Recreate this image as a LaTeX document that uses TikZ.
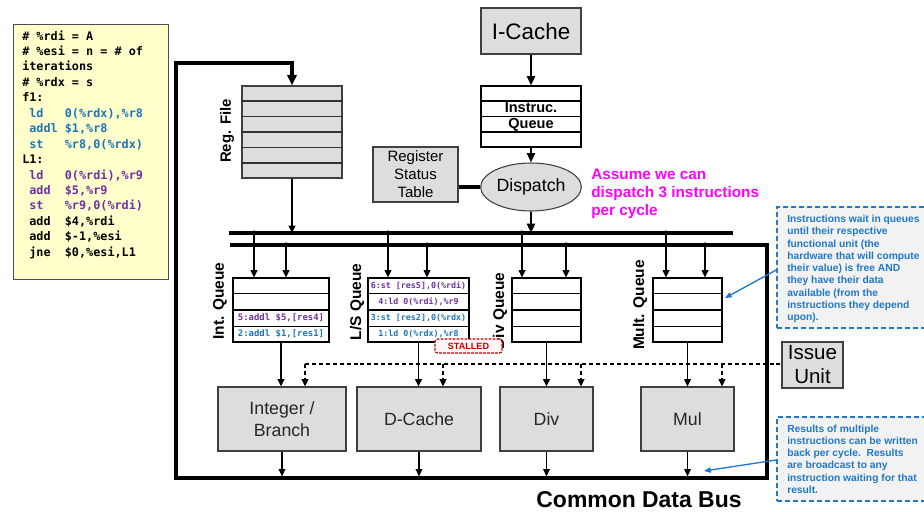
\documentclass[tikz,border=0pt]{standalone}
\usepackage{fontspec}
\setmainfont{Liberation Sans}
\setmonofont{DejaVu Sans Mono}
\usetikzlibrary{arrows.meta,fit,calc,shapes.geometric}

\definecolor{codeblue}{HTML}{1B75BC}
\definecolor{codepurple}{HTML}{7030A0}
\definecolor{codebg}{HTML}{FFFFCC}
\definecolor{boxgray}{HTML}{DDDDDD}
\definecolor{notegray}{HTML}{F2F2F2}
\definecolor{noteblue}{HTML}{1F78C8}
\definecolor{stallred}{HTML}{C00000}
\definecolor{hintmagenta}{HTML}{FF00FF}

\newcommand\codeln[3]{\node[codetext,text=#2] (code#1) at (22,{40+15.45*#1}) {#3};}

\begin{document}
\begin{tikzpicture}[x=0.75pt,y=-0.75pt,
  thickline/.style={line width=2.6pt},
  conn/.style={line width=1.1pt,-{Triangle[length=5.5pt,width=5pt]}},
  bigconn/.style={line width=1.7pt,-{Triangle[length=7pt,width=6pt]}},
  issueconn/.style={line width=1.2pt,dash pattern=on 3pt off 2.2pt,-{Triangle[length=5.5pt,width=5pt]}},
  issueline/.style={line width=1.2pt,dash pattern=on 3pt off 2.2pt},
  tap/.style={circle,fill,inner sep=0,minimum size=3.8pt},
  graybox/.style={draw=black!75,fill=boxgray,line width=0.8pt,inner sep=0},
  queuebox/.style={draw=black,fill=white,line width=0.8pt,inner sep=0},
  qlabel/.style={rotate=90,inner sep=0,font=\bfseries\fontsize{11.6}{13}\selectfont},
  entry/.style={inner sep=0,font=\ttfamily\bfseries\fontsize{6.7}{8}\selectfont},
  lsentry/.style={inner sep=0,font=\ttfamily\bfseries\fontsize{6.25}{8}\selectfont},
  codetext/.style={anchor=base west,inner sep=0,font=\ttfamily\bfseries\fontsize{8.85}{11}\selectfont},
  fulabel/.style={inner sep=0,align=center,font=\fontsize{13.3}{16.5}\selectfont,text=black!85},
  note/.style={draw=noteblue,fill=notegray,dash pattern=on 4pt off 2pt,line width=1.2pt,inner sep=0},
  notetext/.style={text=noteblue,align=left,anchor=west,inner sep=0,font=\bfseries\fontsize{7.7}{9.2}\selectfont},
  noteconn/.style={draw=noteblue,line width=1pt,-{Triangle[length=5pt,width=4pt]}}]
\useasboundingbox (0,0) rectangle (924,511);

% ---------------- program listing ----------------
\node[draw=black!70,fill=codebg,line width=0.6pt,inner sep=0,fit={(13,24) (168,279)}] (code) {};
\codeln{0}{black}{\# \%rdi = A}
\codeln{1}{black}{\# \%esi = n = \# of}
\codeln{2}{black}{iterations}
\codeln{3}{black}{\# \%rdx = s}
\codeln{4}{black}{f1:}
\codeln{5}{codeblue}{~ld~~~0(\%rdx),\%r8}
\codeln{6}{codeblue}{~addl~\$1,\%r8}
\codeln{7}{codeblue}{~st~~~\%r8,0(\%rdx)}
\codeln{8}{black}{L1:}
\codeln{9}{codepurple}{~ld~~~0(\%rdi),\%r9}
\codeln{10}{codepurple}{~add~~\$5,\%r9}
\codeln{11}{codepurple}{~st~~~\%r9,0(\%rdi)}
\codeln{12}{black}{~add~~\$4,\%rdi}
\codeln{13}{black}{~add~~\$-1,\%esi}
\codeln{14}{black}{~jne~~\$0,\%esi,L1}

% ---------------- front end ----------------
\node[graybox,fit={(481,8) (581,54)}] (icache) {};
\node[inner sep=0,font=\fontsize{16.8}{19}\selectfont] (icacheT) at (icache.center) {I-Cache};
\node[queuebox,fit={(481,86) (581,147)}] (instq) {};
\foreach \f in {0.25,0.5,0.75}
  \draw[line width=0.8pt] ($(instq.north west)!\f!(instq.south west)$) -- ($(instq.north east)!\f!(instq.south east)$);
\node[inner sep=0,font=\bfseries\fontsize{10.9}{12}\selectfont] (instqa) at (531,108) {Instruc.};
\node[inner sep=0,font=\bfseries\fontsize{10.9}{12}\selectfont] (instqb) at (531,125) {Queue};

\node[ellipse,draw=black!75,fill=boxgray,line width=0.8pt,minimum width=75.5pt,minimum height=36pt,inner sep=0,
      font=\fontsize{13.3}{15}\selectfont] (dispatch) at (531,187) {Dispatch};
\node[graybox,fit={(373,147) (458,202)}] (rst) {};
\node[inner sep=0,align=center,font=\fontsize{11.25}{13.5}\selectfont] (rstT) at (rst.center) {Register\\Status\\Table};

\node[graybox,fit={(242,86) (342,178)}] (regfile) {};
\foreach \f in {1,...,5}
  \draw[line width=0.8pt,black!80] ($(regfile.north west)!\f/6!(regfile.south west)$) -- ($(regfile.north east)!\f/6!(regfile.south east)$);
\node[rotate=90,inner sep=0,font=\bfseries\fontsize{11.2}{13}\selectfont] (rflabel) at (227,131) {Reg. File};

\node[anchor=west,align=left,inner sep=0,text=hintmagenta,font=\bfseries\fontsize{11.5}{13.5}\selectfont] (hint) at (591,194)
  {Assume we can\\dispatch 3 instructions\\per cycle};

\draw[bigconn] (icache.south) -- (instq.north);
\draw[bigconn] (instq.south) -- (dispatch.north);
\draw[thickline] (rst.east |- dispatch.west) -- (dispatch.west);

% ---------------- buses ----------------
\coordinate (busAW) at (229,233);
\coordinate (busAE) at (733,233);
\coordinate (busBW) at (230,245);
\coordinate (cdbTR) at (767,245);
\coordinate (cdbBR) at (767,478);
\coordinate (cdbBL) at (176,478);
\coordinate (cdbTL) at (176,63);

\draw[thickline] (busAW) -- (busAE);
\draw[thickline,line join=miter,-{Triangle[length=8pt,width=7pt]}]
  (busBW) -- (cdbTR) -- (cdbBR) -- (cdbBL) -- (cdbTL) -- (cdbTL -| regfile.north) -- (regfile.north);

\draw[conn] (regfile.south) -- (regfile.south |- busAW);
\draw[bigconn] (dispatch.south) -- (dispatch.south |- busAW);

% ---------------- reservation queues ----------------
\node[queuebox,fit={(233,278) (329,342)}] (intq) {};
\node[queuebox,fit={(368,278) (469,342)}] (lsq) {};
\node[queuebox,fit={(512,278) (581,342)}] (divq) {};
\node[queuebox,fit={(653,278) (722,342)}] (mulq) {};
\foreach \q in {intq,lsq,divq,mulq}
  \foreach \f in {0.25,0.5,0.75}
    \draw[line width=0.8pt] ($(\q.north west)!\f!(\q.south west)$) -- ($(\q.north east)!\f!(\q.south east)$);

\node[entry,text=codepurple] (int3) at (281,318) {5:addl \$5,[res4]};
\node[entry,text=codeblue] (int4) at (281,334) {2:addl \$1,[res1]};
\node[lsentry,text=codepurple] (ls1) at (418.5,286) {6:st [res5],0(\%rdi)};
\node[lsentry,text=codepurple] (ls2) at (418.5,302) {4:ld 0(\%rdi),\%r9};
\node[lsentry,text=codeblue] (ls3) at (418.5,318) {3:st [res2],0(\%rdx)};
\node[lsentry,text=codeblue] (ls4) at (418.5,334) {1:ld 0(\%rdx),\%r8};

\node[qlabel] (intlabel) at (220,301) {Int. Queue};
\node[qlabel] (lslabel) at (357,302) {L/S Queue};
\node[qlabel] (divlabel) at (500,311) {Div Queue};
\node[qlabel] (mullabel) at (640,305) {Mult. Queue};

\node[draw=stallred,fill=red!4,dash pattern=on 2pt off 1pt,line width=0.9pt,rounded corners=2pt,inner sep=0,
      fit={(435,339) (502,353)}] (stalled) {};
\node[inner sep=0,text=stallred,font=\bfseries\fontsize{6.8}{7}\selectfont] (stalledT) at (stalled.center) {STALLED};

% taps from the dispatch bus and the result bus into the queues
\foreach \n/\x in {tapIa/254,tapLa/388,tapDa/522,tapMa/666}
  \coordinate (\n) at (\x,233);
\foreach \n/\x in {tapIb/286,tapLb/427,tapDb/566,tapMb/705}
  \coordinate (\n) at (\x,245);
\foreach \t/\q in {tapIa/intq,tapIb/intq,tapLa/lsq,tapLb/lsq,tapDa/divq,tapDb/divq,tapMa/mulq,tapMb/mulq}{
  \draw[conn] (\t) -- (\t |- \q.north);
  \node[tap] at (\t) {};
}

% ---------------- functional units ----------------
\node[graybox,fit={(218,387) (346,451)}] (intfu) {};
\node[graybox,fit={(357,387) (481,451)}] (dcache) {};
\node[graybox,fit={(500,387) (593,451)}] (divfu) {};
\node[graybox,fit={(641,387) (734,451)}] (mulfu) {};
\node[fulabel] (intfuT) at (intfu.center) {Integer /\\Branch};
\node[fulabel] (dcacheT) at (dcache.center) {D-Cache};
\node[fulabel] (divfuT) at (divfu.center) {Div};
\node[fulabel] (mulfuT) at (mulfu.center) {Mul};

\foreach \q/\u in {intq/intfu,lsq/dcache,divq/divfu,mulq/mulfu}{
  \draw[conn] (\q.south) -- (\q.south |- \u.north);
  \draw[conn,shorten >=1.2pt] (\u.south) -- (\u.south |- cdbBL);
}

% ---------------- issue unit ----------------
\node[graybox,fit={(782,342) (843,388)}] (issue) {};
\node[inner sep=0,align=center,font=\fontsize{15.4}{18}\selectfont] (issueT) at (issue.center) {Issue\\Unit};
\coordinate (issA) at (305,364);
\coordinate (issB) at (443,364);
\coordinate (issC) at (581,364);
\coordinate (issD) at (722,364);
\draw[issueline] (issA) -- (issA -| issue.west);
\foreach \c/\u in {issA/intfu,issB/dcache,issC/divfu,issD/mulfu}
  \draw[issueconn] (\c) -- (\c |- \u.north);

\node[inner sep=0,font=\bfseries\fontsize{17.2}{19}\selectfont] (cdblabel) at (639,500) {Common Data Bus};

% ---------------- notes ----------------
\node[note,fit={(777,207) (926,328)}] (note1) {};
\node[notetext] (note1text) at (787,269)
  {Instructions wait in queues\\until their respective\\functional unit (the\\hardware that will compute\\their value) is free AND\\they have their data\\available (from the\\instructions they depend\\upon).};
\coordinate (note1tip) at (725,298);
\draw[noteconn] (note1.west |- 0,270) -- (note1tip);

\node[note,fit={(777,417) (926,501)}] (note2) {};
\node[notetext] (note2text) at (787,459)
  {Results of multiple\\instructions can be written\\back per cycle.\ \ Results\\are broadcast to any\\instruction waiting for that\\result.};
\coordinate (note2tip) at (704,471);
\draw[noteconn] (note2.west |- 0,460) -- (note2tip);
\end{tikzpicture}
\end{document}
